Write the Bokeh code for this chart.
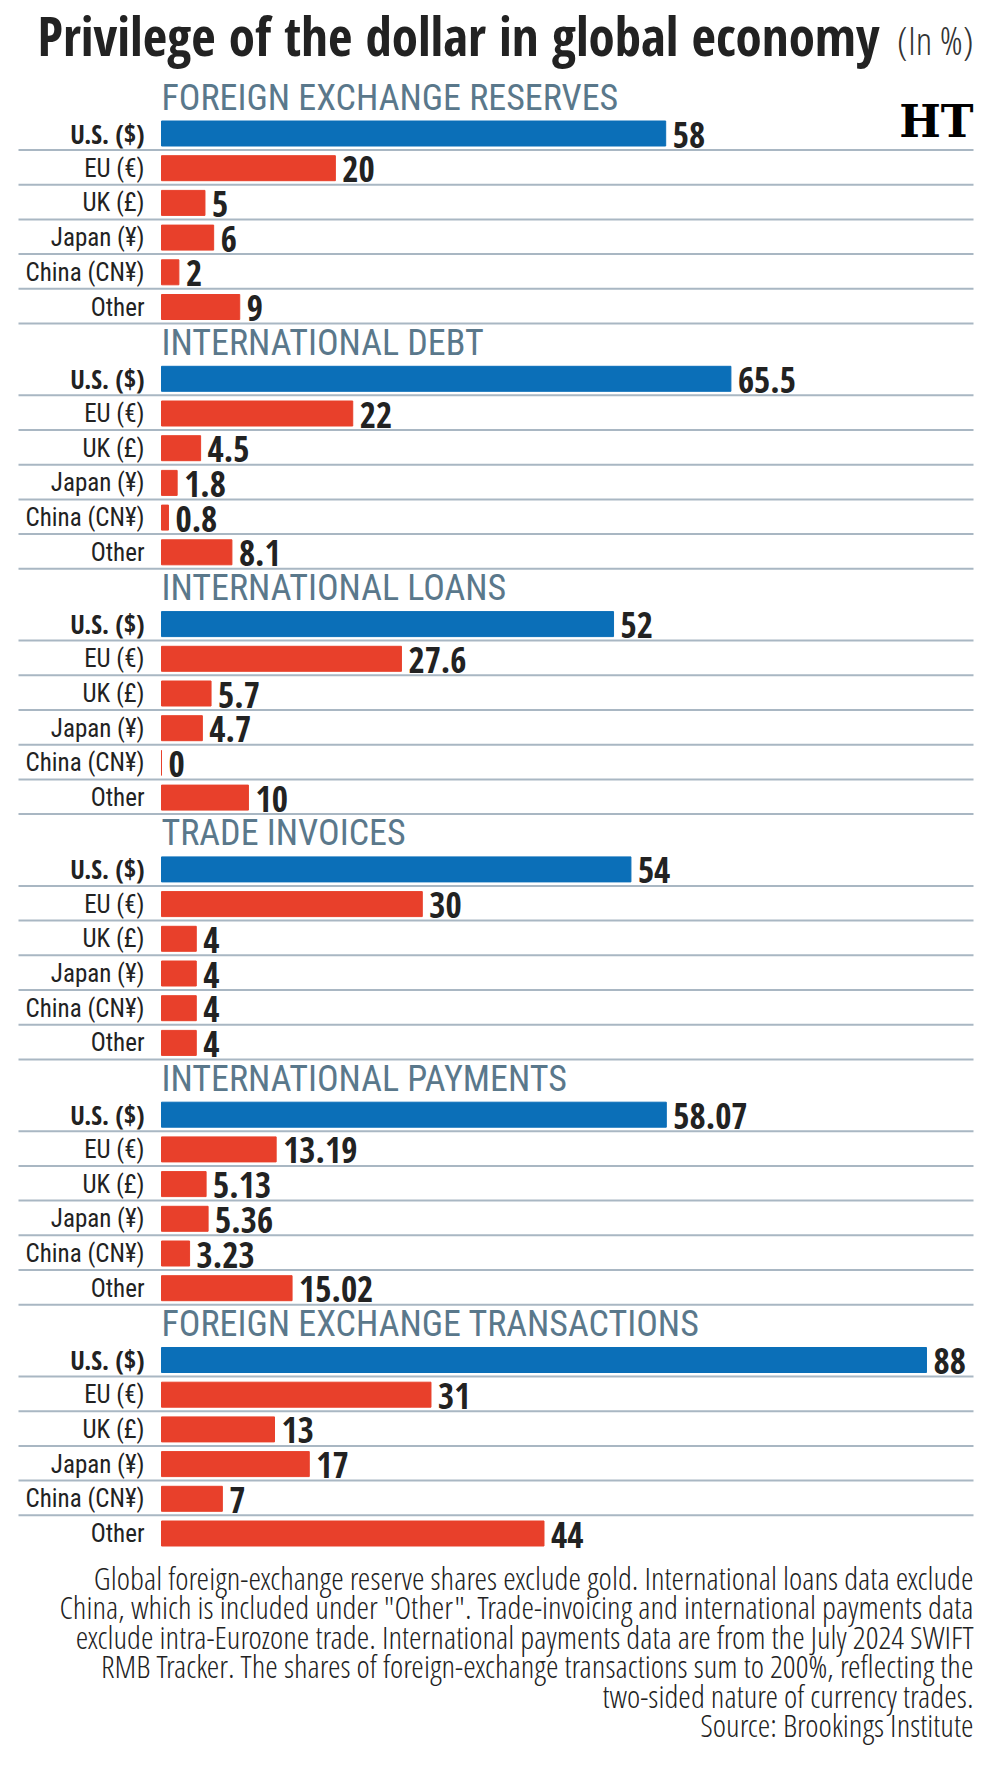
from bokeh.plotting import figure
from bokeh.models import Range1d, ColumnDataSource
from bokeh.core.properties import value
from bokeh.embed import file_html
from bokeh.resources import INLINE

# ---------------- data ----------------
title = "Privilege of the dollar in global economy"
unit_note = "(In %)"
sections = ["FOREIGN EXCHANGE RESERVES", "INTERNATIONAL DEBT", "INTERNATIONAL LOANS",
            "TRADE INVOICES", "INTERNATIONAL PAYMENTS", "FOREIGN EXCHANGE TRANSACTIONS"]
currencies = ["U.S. ($)", "EU (€)", "UK (£)", "Japan (¥)", "China (CN¥)", "Other"]
reserves = [58, 20, 5, 6, 2, 9]
debt = [65.5, 22, 4.5, 1.8, 0.8, 8.1]
loans = [52, 27.6, 5.7, 4.7, 0, 10]
invoices = [54, 30, 4, 4, 4, 4]
payments = [58.07, 13.19, 5.13, 5.36, 3.23, 15.02]
fx_transactions = [88, 31, 13, 17, 7, 44]
series = [reserves, debt, loans, invoices, payments, fx_transactions]
footnote = [
    "Global foreign-exchange reserve shares exclude gold. International loans data exclude",
    "China, which is included under \"Other\". Trade-invoicing and international payments data",
    "exclude intra-Eurozone trade. International payments data are from the July 2024 SWIFT",
    "RMB Tracker. The shares of foreign-exchange transactions sum to 200%, reflecting the",
    "two-sided nature of currency trades.",
    "Source: Brookings Institute",
]

# ---------------- layout ----------------
W, H = 1000, 1767
X0_PX = 161.0          # pixel where value 0 sits
PX_PER_UNIT = 8.693    # pixels per percentage point
def px(xp):
    return (xp - X0_PX) / PX_PER_UNIT

FIRST_ROW = 133.0
SECTION_PITCH = 245.3
ROW_PITCH = 34.7
BAR_H = 25

BOLD = "Open Sans Condensed"
LIGHT = "Open Sans Condensed Light"
COND = "Roboto Condensed"
BLUE = "#0b6fb8"
RED = "#e8402b"
HEAD = "#5a788b"
RULE = "#a9b7c3"
DARK = "#222222"

p = figure(width=W, height=H, output_backend="svg", toolbar_location=None,
           x_range=Range1d(px(0), px(W)), y_range=Range1d(H, 0),
           x_axis_location=None, y_axis_location=None, min_border=0,
           background_fill_color="white", border_fill_color="white")
p.grid.visible = False
p.outline_line_color = None

bar = dict(val=[], y=[], color=[], label=[])
lab_us = dict(y=[], text=[])
lab_other = dict(y=[], text=[])
rules = []
heads = dict(x=[], y=[], text=[])
for s, (name, vals) in enumerate(zip(sections, series)):
    top = FIRST_ROW + SECTION_PITCH * s
    heads["x"].append(0)
    heads["y"].append(top - 36)
    heads["text"].append(name)
    for r, (cur, v) in enumerate(zip(currencies, vals)):
        y = top + ROW_PITCH * r
        bar["val"].append(v)
        bar["y"].append(y)
        bar["color"].append(BLUE if r == 0 else RED)
        bar["label"].append(f"{v:g}")
        tgt = lab_us if r == 0 else lab_other
        tgt["y"].append(y)
        tgt["text"].append(cur)
        if not (s == len(sections) - 1 and r == len(currencies) - 1):
            rules.append(y + 16.5)

src = ColumnDataSource(bar)

# separator rules
p.segment(x0=px(18), x1=px(973), y0=rules, y1=rules, line_color=RULE, line_width=2)

# bars
p.hbar(y="y", left=0, right="val", height=BAR_H, fill_color="color",
       line_color="color", line_width=1, source=src)

# value labels
p.text(x="val", y="y", text="label", x_offset=7, y_offset=1, source=src,
       text_font=value(BOLD), text_font_style="bold", text_font_size="35px",
       text_color=DARK, text_baseline="middle", text_align="left")

# category labels
p.text(x=0, y="y", text="text", x_offset=-17, y_offset=0, source=ColumnDataSource(lab_us),
       text_font=value(BOLD), text_font_style="bold", text_font_size="26px",
       text_color=DARK, text_baseline="middle", text_align="right")
p.text(x=0, y="y", text="text", x_offset=-17, y_offset=0, source=ColumnDataSource(lab_other),
       text_font=value(COND), text_font_size="25px",
       text_color=DARK, text_baseline="middle", text_align="right")

# section headers
p.text(x="x", y="y", text="text", source=ColumnDataSource(heads),
       text_font=value(COND), text_font_size="36px", text_color=HEAD,
       text_baseline="middle", text_align="left")

# title
p.text(x=[px(37)], y=[35], text=[title], text_font=value(BOLD),
       text_font_style="bold", text_font_size="53px", text_color="#222222",
       text_baseline="middle", text_align="left")
p.text(x=[px(973)], y=[39], text=[unit_note], text_font=value(LIGHT),
       text_font_size="39px", text_color="#333333",
       text_baseline="middle", text_align="right")

# HT logo
p.text(x=[px(973)], y=[121], text=["HT"], text_font=value("DejaVu Serif"),
       text_font_style="bold", text_font_size="44px", text_color="#000000",
       text_baseline="middle", text_align="right")

# footnote
foot_y = [1577 + 29.4 * i for i in range(len(footnote))]
p.text(x=[px(973)] * len(footnote), y=foot_y, text=footnote, text_font=value(LIGHT),
       text_font_size="32px", text_color="#222222",
       text_baseline="middle", text_align="right")

open("out.html", "w").write(file_html(p, INLINE))
